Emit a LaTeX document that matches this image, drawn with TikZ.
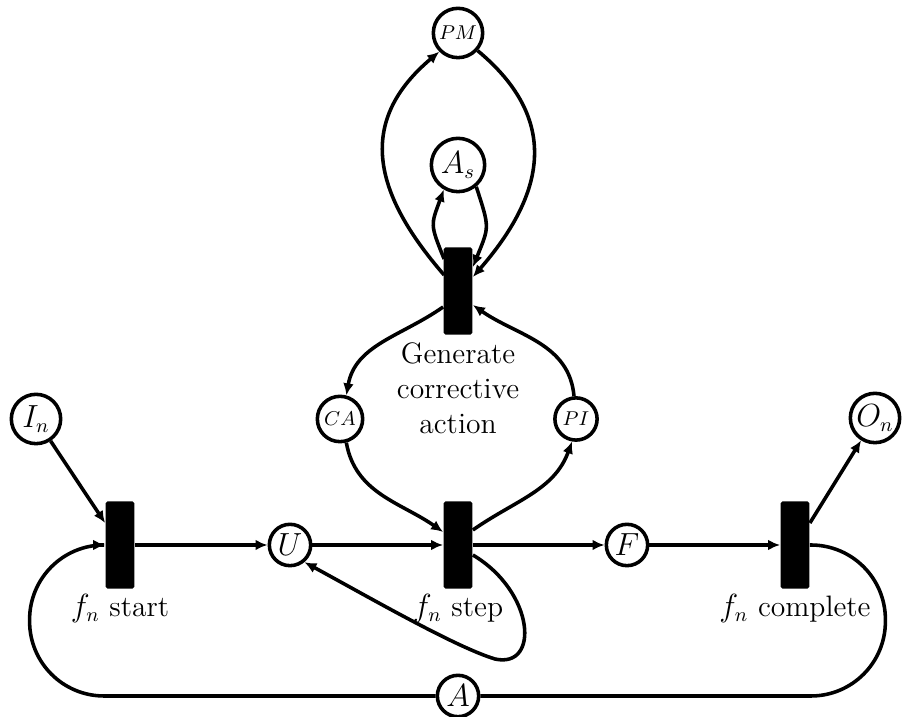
\documentclass[tikz,border=0pt]{standalone}
\usetikzlibrary{arrows.meta}
\begin{document}
\begin{tikzpicture}[x=0.45pt,y=0.45pt,
  place/.style={circle,draw,fill=white,line width=1.6pt,inner sep=0pt,minimum size=#1,
    font=\fontsize{13.3}{16}\selectfont},
  place/.default=18.6pt,
  small/.style={font=\fontsize{9.3}{11}\selectfont},
  trans/.style={rectangle,fill=black,inner sep=0pt,minimum width=13pt,minimum height=39.2pt,rounded corners=0.8pt},
  flow/.style={line width=1.6pt,-{Latex[length=5.4pt,width=4.8pt]}},
  link/.style={line width=1.6pt},
  lbl/.style={font=\fontsize{13.3}{15.75}\selectfont,inner sep=0pt,align=center}
]
\useasboundingbox (0,0) rectangle (903,717);

% transitions
\node[trans] (ts) at (120,172) {};
\node[trans] (tp) at (458,172) {};
\node[trans] (tc) at (795,172) {};
\node[trans] (tg) at (458,426) {};

% places
\node[place=22.2pt] (In) at (36,298) {$I_n$};
\node[place] (U) at (290,172) {$U$};
\node[place] (F) at (627,172) {$F$};
\node[place=22.2pt] (On) at (875,299) {$O_n$};
\node[place] (A) at (458,21) {$A$};
\node[place=20.4pt,small] (CA) at (340,298) {$CA$};
\node[place=19pt,small] (PI) at (576,298) {$PI$};
\node[place=24pt] (As) at (458,552) {$A_s$};
\node[place=22.2pt,small] (PM) at (458,684) {$PM$};

% transition labels
\node[lbl,anchor=base] (lstart) at (120,100) {$f_n$ start};
\node[lbl,anchor=base] (lstep) at (458,100) {$f_n$ step};
\node[lbl,anchor=base] (lcomp) at (795,100) {$f_n$ complete};
\node[lbl] (lgen) at (458,329) {Generate\\corrective\\action};

% main line
\draw[flow] (In) -- ([shift={(0,-22)}]ts.north west);
\draw[flow] (ts) -- (U);
\draw[flow] (U) -- (tp);
\draw[flow] (tp) -- (F);
\draw[flow] (F) -- (tc);
\draw[flow] ([shift={(0,-22)}]tc.north east) -- (On);

% return loop through A
\draw[link,rounded corners=33.5pt] (tc.east) -- ++(75.5,0) |- (A.east);
\draw[flow,rounded corners=33.5pt] (A.west) -| ([shift={(-75.5,0)}]ts.west) -- (ts.west);

% step transition arcs
\coordinate (loopb) at (495,58);
\draw[flow] (CA.-75) to[out=-80,in=145] ([shift={(0,13)}]tp.west);
\draw[flow] ([shift={(0,15)}]tp.east) to[out=35,in=-110] (PI.-100);
\draw[flow] ([shift={(0,-10)}]tp.east) .. controls (535,125) and (540,48) .. (loopb)
  .. controls (455,70) and (365,122) .. (U.-50);

% corrective action transition arcs
\draw[flow] ([shift={(0,-16)}]tg.west) to[out=215,in=80] (CA.75);
\draw[flow] (PI.95) to[out=95,in=-35] ([shift={(0,-14)}]tg.east);
\draw[flow] ([shift={(1,-12)}]tg.north west) to[out=112,in=-110,looseness=1.4] (As.-120);
\draw[flow] (As.-50) to[out=-72,in=68,looseness=1.4] ([shift={(0,-20)}]tg.north east);
\draw[flow] ([shift={(1,-28)}]tg.north west) .. controls (372,525) and (357,596) .. (PM.-135);
\draw[flow] (PM.-42) .. controls (561,597) and (545,523) .. ([shift={(0,-30)}]tg.north east);
\end{tikzpicture}
\end{document}
